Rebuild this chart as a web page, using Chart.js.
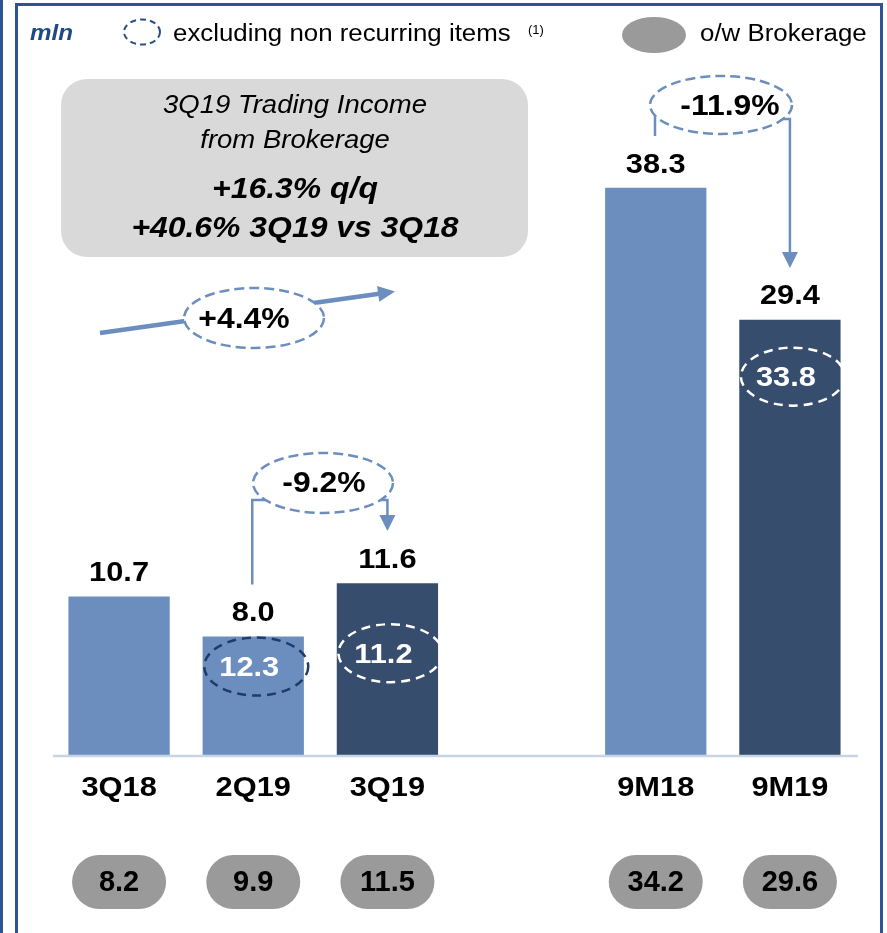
<!DOCTYPE html>
<html>
<head>
<meta charset="utf-8">
<script src="https://cdn.jsdelivr.net/npm/chart.js@4/dist/chart.umd.min.js"></script>
<style>
html,body{margin:0;padding:0;background:#fff;}
#wrap{position:relative;width:887px;height:933px;}
canvas{display:block;}
</style>
</head>
<body>
<div id="wrap"><canvas id="c" width="887" height="933"></canvas></div>
<script>
// ---- data ----
const categories = ['3Q18', '2Q19', '3Q19', '', '9M18', '9M19'];
const tradingIncome = [10.7, 8.0, 11.6, null, 38.3, 29.4];
const excludingNonRecurring = [null, 12.3, 11.2, null, null, 33.8];
const brokerage = [8.2, 9.9, 11.5, null, 34.2, 29.6];
const highlighted = ['3Q19', '9M19'];
const changeLabels = ['+4.4%', '-9.2%', '-11.9%'];
const boxLines = ['3Q19 Trading Income', 'from Brokerage', '+16.3% q/q', '+40.6% 3Q19 vs 3Q18'];
const legendItems = ['excluding non recurring items', 'o/w Brokerage'];
const unitLabel = 'mln';

// ---- styles ----
const LIGHT = '#6c8ebe';
const DARK = '#374d6e';
const ARROW = '#6c8ebe';
const BORDER = '#2c5393';
const FF = '"Liberation Sans", Arial, sans-serif';
const SX = 1.1;

function txt(ctx, s, x, y, font, color, align, sx) {
  ctx.save();
  ctx.translate(x, y);
  ctx.scale(sx || SX, 1);
  ctx.font = font;
  ctx.fillStyle = color;
  ctx.textAlign = align || 'center';
  ctx.textBaseline = 'middle';
  ctx.fillText(s, 0, 0);
  ctx.restore();
}
function ell(ctx, cx, cy, rx, ry, stroke, dash, lw, fill) {
  ctx.save();
  ctx.beginPath();
  ctx.ellipse(cx, cy, rx, ry, 0, 0, Math.PI * 2);
  if (fill) { ctx.fillStyle = fill; ctx.fill(); }
  ctx.setLineDash(dash);
  ctx.lineWidth = lw;
  ctx.strokeStyle = stroke;
  ctx.stroke();
  ctx.restore();
}
function arrowHead(ctx, x, y, ang, len, hw, color) {
  ctx.save();
  ctx.translate(x, y);
  ctx.rotate(ang);
  ctx.beginPath();
  ctx.moveTo(0, 0);
  ctx.lineTo(-len, -hw);
  ctx.lineTo(-len, hw);
  ctx.closePath();
  ctx.fillStyle = color;
  ctx.fill();
  ctx.restore();
}

const overlay = {
  id: 'overlay',
  afterDraw(chart) {
    const ctx = chart.ctx;
    const xs = chart.scales.x, ys = chart.scales.y;
    const X = i => xs.getPixelForValue(i);
    const Y = v => ys.getPixelForValue(v);
    const base = Y(0);

    // baseline
    ctx.save();
    ctx.strokeStyle = '#c8d3e6';
    ctx.lineWidth = 2.5;
    ctx.beginPath();
    ctx.moveTo(chart.chartArea.left + 1, base + 1);
    ctx.lineTo(chart.chartArea.right + 1, base + 1);
    ctx.stroke();
    ctx.restore();

    // value labels, category labels, pills
    categories.forEach((c, i) => {
      const v = tradingIncome[i];
      if (v == null) return;
      const x = X(i);
      txt(ctx, v.toFixed(1), x, Y(v) - 23, 'bold 28px ' + FF, '#000');
      txt(ctx, c, x, base + 33, 'bold 28px ' + FF, '#000');
      const b = brokerage[i];
      if (b != null) {
        ctx.save();
        ctx.beginPath();
        ctx.roundRect(x - 47, base + 100, 94, 54, 27);
        ctx.fillStyle = '#9a9a9a';
        ctx.fill();
        ctx.restore();
        txt(ctx, b.toFixed(1), x, base + 128, 'bold 29px ' + FF, '#000', 'center', 1.0);
      }
    });

    // inner "excluding non recurring" ellipses
    const innerOff = [0, 30, 70, 0, 0, 57];
    categories.forEach((c, i) => {
      const e = excludingNonRecurring[i];
      if (e == null) return;
      const x = X(i);
      const y = Y(tradingIncome[i]) + innerOff[i];
      const dark = highlighted.includes(c);
      ell(ctx, x + 3, y, 52, 29, dark ? '#ffffff' : '#1f3b68', [9, 6], 2.5);
      txt(ctx, e.toFixed(1), x - 4, y + 2, 'bold 28px ' + FF, '#ffffff');
    });

    // gray info box
    ctx.save();
    ctx.beginPath();
    ctx.roundRect(61, 79, 467, 178, 26);
    ctx.fillStyle = '#d9d9d9';
    ctx.fill();
    ctx.restore();
    txt(ctx, boxLines[0], 295, 106, 'italic 25px ' + FF, '#000');
    txt(ctx, boxLines[1], 295, 141, 'italic 25px ' + FF, '#000');
    txt(ctx, boxLines[2], 295, 190, 'italic bold 29px ' + FF, '#000');
    txt(ctx, boxLines[3], 295, 229, 'italic bold 29px ' + FF, '#000');

    // +4.4% arrow
    ctx.save();
    ctx.strokeStyle = ARROW;
    ctx.lineWidth = 4.5;
    ctx.beginPath();
    ctx.moveTo(100, 333);
    ctx.lineTo(381, 293.5);
    ctx.stroke();
    ctx.restore();
    arrowHead(ctx, 395, 291.5, Math.atan2(291.5 - 333, 395 - 100), 17, 8, ARROW);
    ell(ctx, 254, 318, 70, 30, ARROW, [10, 5], 2.5, '#ffffff');
    txt(ctx, changeLabels[0], 244, 320, 'bold 29px ' + FF, '#000');

    // -9.2% elbow
    const x2 = X(1), x3 = X(2);
    ctx.save();
    ctx.strokeStyle = ARROW;
    ctx.lineWidth = 2.5;
    ctx.beginPath();
    ctx.moveTo(x2 - 1, Y(tradingIncome[1]) - 52);
    ctx.lineTo(x2 - 1, 500);
    ctx.lineTo(x2 + 20, 500);
    ctx.moveTo(x3 - 20, 500);
    ctx.lineTo(x3, 500);
    ctx.lineTo(x3, 518);
    ctx.stroke();
    ctx.restore();
    arrowHead(ctx, x3, 531, Math.PI / 2, 16, 8, ARROW);
    ell(ctx, 323, 483, 70, 30, ARROW, [10, 5], 2.5, '#ffffff');
    txt(ctx, changeLabels[1], 324, 484, 'bold 29px ' + FF, '#000');

    // -11.9% connector
    const x4 = X(4), x5 = X(5);
    ctx.save();
    ctx.strokeStyle = ARROW;
    ctx.lineWidth = 2.5;
    ctx.beginPath();
    ctx.moveTo(655, 136);
    ctx.lineTo(655, 115);
    ctx.moveTo(x5 - 8, 119);
    ctx.lineTo(x5, 119);
    ctx.lineTo(x5, 254);
    ctx.stroke();
    ctx.restore();
    arrowHead(ctx, x5, 268, Math.PI / 2, 16, 8, ARROW);
    ell(ctx, 721, 105, 71, 29, ARROW, [10, 5], 2.5, '#ffffff');
    txt(ctx, changeLabels[2], 730, 107, 'bold 29px ' + FF, '#000');

    // legend
    txt(ctx, unitLabel, 30, 34, 'italic bold 22px ' + FF, '#1f4a85', 'left');
    ell(ctx, 142, 32, 18, 12.5, '#2b4f80', [6, 4], 2);
    txt(ctx, legendItems[0], 173, 35, '23.5px ' + FF, '#000', 'left');
    txt(ctx, '(1)', 528, 30, '13px ' + FF, '#000', 'left', 1.0);
    ctx.save();
    ctx.beginPath();
    ctx.ellipse(654, 35, 32, 18, 0, 0, Math.PI * 2);
    ctx.fillStyle = '#9a9a9a';
    ctx.fill();
    ctx.restore();
    txt(ctx, legendItems[1], 700, 35, '23.5px ' + FF, '#000', 'left');

    // frame
    ctx.save();
    ctx.fillStyle = BORDER;
    ctx.fillRect(0, 0, 3, 933);
    ctx.fillRect(15, 3, 3, 930);
    ctx.fillRect(15, 3, 868, 3);
    ctx.fillRect(880, 3, 3, 930);
    ctx.restore();
  }
};

new Chart(document.getElementById('c'), {
  type: 'bar',
  data: {
    labels: categories,
    datasets: [{
      label: 'Trading income',
      data: tradingIncome,
      backgroundColor: ctx => highlighted.includes(categories[ctx.dataIndex]) ? DARK : LIGHT,
      borderWidth: 0,
      barPercentage: 0.755,
      categoryPercentage: 1.0
    }]
  },
  options: {
    responsive: false,
    animation: false,
    devicePixelRatio: 1,
    layout: { padding: { left: 52, right: 30, top: 59, bottom: 178 } },
    plugins: { legend: { display: false }, tooltip: { enabled: false } },
    scales: {
      x: { display: false },
      y: { display: false, min: 0, max: 47 }
    }
  },
  plugins: [overlay]
});
</script>
</body>
</html>
